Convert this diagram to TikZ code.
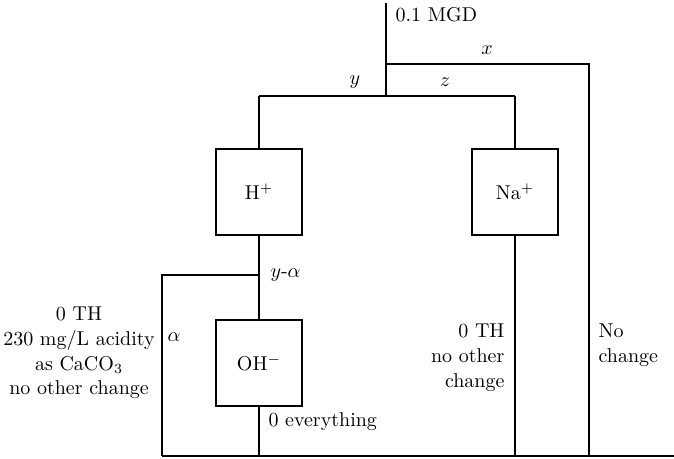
\documentclass[tikz,border=0pt]{standalone}
\usepackage{amsmath,amssymb}
\usepackage{tikz}
\usetikzlibrary{positioning}

\begin{document}
\begin{tikzpicture}[
  x=0.5pt, y=-0.5pt,
  unit/.style={rectangle, draw, minimum size=43pt, inner sep=0pt, font=\normalsize},
  lbl/.style={inner sep=0pt, font=\fontsize{10}{12.4}\selectfont},
  every path/.style={line width=0.55pt},
]
  \useasboundingbox (0,0) rectangle (674,459);

  % Nodes
  \node[unit] (H)  at (259,192) {H$^{+}$};
  \node[unit] (Na) at (515,192) {Na$^{+}$};
  \node[unit] (OH) at (259,363) {OH$^{-}$};

  \coordinate (top)   at (386,3);
  \coordinate (split) at (386,96);
  \coordinate (xj)    at (386,64);
  \coordinate (yl)    at (259,96);
  \coordinate (zr)    at (515,96);
  \coordinate (aj)    at (259,275);
  \coordinate (bl)    at (162,456);
  \coordinate (br)    at (674,456);

  % Labels
  \node[lbl, anchor=west] (flow) at (395,15) {0.1 MGD};
  \node[lbl] (xl) at (487,50) {$x$};
  \node[lbl] (ylb) at (355,82) {$y$};
  \node[lbl] (zl) at (445,82) {$z$};
  \node[lbl, anchor=west] (yal) at (270,275) {$y$-$\alpha$};
  \node[lbl] (al) at (174,337) {$\alpha$};
  \node[lbl, align=center] (hout) at (79,353)
    {0 TH\\230 mg/L acidity\\as CaCO$_3$\\no other change};
  \node[lbl, align=right, anchor=east] (naout) at (505,358)
    {0 TH\\no other\\change};
  \node[lbl, align=left, anchor=west] (xout) at (598,345) {No\\change};
  \node[lbl, anchor=west] (ohout) at (268,422) {0 everything};

  % Edges
  \draw (top) -- (split);
  \draw (xj) -| (br -| 589,0);
  \draw (yl) -- (zr);
  \draw (yl) -- (H);
  \draw (zr) -- (Na);
  \draw (H) -- (OH);
  \draw (aj) -| (bl);
  \draw (OH) -- (OH |- bl);
  \draw (Na) -- (Na |- bl);
  \draw (bl) -- (br);
\end{tikzpicture}
\end{document}
